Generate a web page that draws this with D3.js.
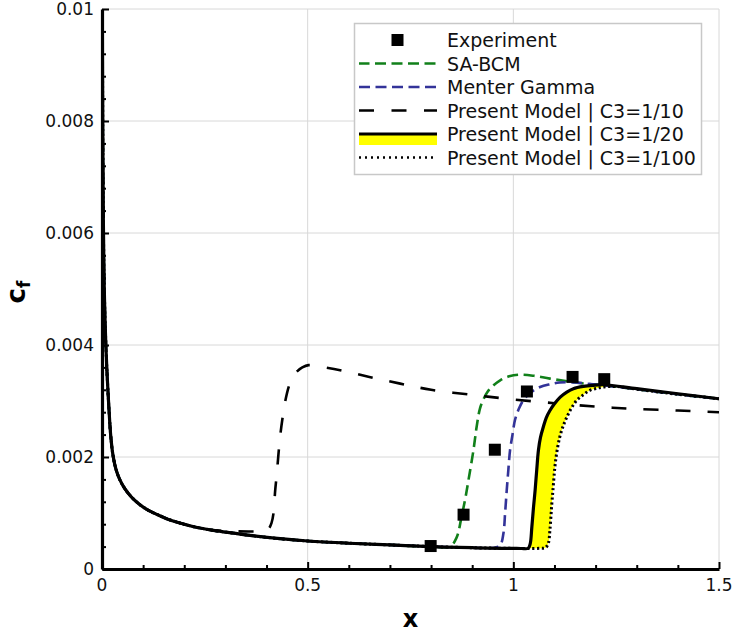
<!DOCTYPE html>
<html>
<head>
<meta charset="utf-8">
<script src="https://cdn.jsdelivr.net/npm/d3@7"></script>
<style>
  html, body { margin: 0; padding: 0; background: #fff; }
  svg { display: block; font-family: "DejaVu Sans", sans-serif; }
</style>
</head>
<body>
<svg id="chart" width="733" height="637"></svg>
<script>
// Skin-friction coefficient along a flat plate: transition predictions vs. experiment

// Laminar region shared by every model
const laminarX  = [0.0008, 0.0015, 0.003, 0.005, 0.0065, 0.008, 0.0105, 0.0129, 0.017, 0.021, 0.0267, 0.034, 0.043, 0.055, 0.071, 0.09, 0.112, 0.135, 0.16, 0.185, 0.226, 0.271, 0.32, 0.36, 0.42, 0.5, 0.6, 0.7, 0.8, 0.9, 0.97, 1.0, 1.02];
const laminarCf = [0.0100, 0.0085, 0.0064, 0.0052, 0.0047, 0.0043, 0.0038, 0.0034, 0.00285, 0.0024, 0.00203, 0.00178, 0.0016, 0.00144, 0.00129, 0.00116, 0.00105, 0.00097, 0.00089, 0.00083, 0.00075, 0.00069, 0.00064, 0.0006, 0.00055, 0.0005, 0.00046, 0.00043, 0.0004, 0.00038, 0.00037, 0.000368, 0.000366];

// Experiment
const expX  = [0.799, 0.879, 0.955, 1.033, 1.144, 1.221];
const expCf = [0.00041, 0.00097, 0.00213, 0.00317, 0.00343, 0.00339];

// SA-BCM (transition and turbulent part)
const saX  = [0.846, 0.862, 0.874, 0.883, 0.891, 0.903, 0.911, 0.919, 0.928, 0.937, 0.952, 0.968, 0.99, 1.016, 1.05, 1.089, 1.162, 1.22, 1.3, 1.4, 1.5];
const saCf = [0.0004, 0.00056, 0.00093, 0.00125, 0.00159, 0.00212, 0.00255, 0.00287, 0.00304, 0.00316, 0.00328, 0.00337, 0.00344, 0.00347, 0.00345, 0.0034, 0.00332, 0.00328, 0.00321, 0.00312, 0.00304];

// Menter Gamma
const mgX  = [0.955, 0.968, 0.976, 0.98, 0.984, 0.988, 0.992, 0.998, 1.004, 1.014, 1.024, 1.042, 1.065, 1.09, 1.113, 1.15, 1.178, 1.22, 1.3, 1.4, 1.5];
const mgCf = [0.00038, 0.00042, 0.00064, 0.001, 0.00141, 0.00178, 0.00212, 0.0024, 0.00266, 0.00287, 0.00301, 0.00315, 0.00325, 0.0033, 0.00333, 0.00333, 0.00331, 0.00328, 0.00321, 0.00312, 0.00304];

// Present model, C3 = 1/10
const c10X  = [0.3, 0.36, 0.392, 0.405, 0.412, 0.417, 0.421, 0.425, 0.429, 0.433, 0.439, 0.445, 0.455, 0.465, 0.473, 0.487, 0.502, 0.54, 0.579, 0.65, 0.725, 0.8, 0.9, 0.984, 1.1, 1.2, 1.292, 1.4, 1.5];
const c10Cf = [0.00068, 0.00067, 0.00068, 0.00072, 0.00082, 0.001, 0.0014, 0.0017, 0.00205, 0.00236, 0.0027, 0.00298, 0.00328, 0.00345, 0.00352, 0.0036, 0.00364, 0.0036, 0.00355, 0.00343, 0.00331, 0.0032, 0.00311, 0.00304, 0.00296, 0.0029, 0.00286, 0.00283, 0.0028];

// Present model, C3 = 1/20
const c20X  = [1.036, 1.041, 1.045, 1.049, 1.053, 1.057, 1.061, 1.066, 1.073, 1.08, 1.089, 1.1, 1.114, 1.13, 1.146, 1.17, 1.194, 1.221, 1.3, 1.4, 1.5];
const c20Cf = [0.00037, 0.00045, 0.00075, 0.0011, 0.00141, 0.00178, 0.00212, 0.00235, 0.00254, 0.0027, 0.00283, 0.00295, 0.00307, 0.00316, 0.00322, 0.00326, 0.00328, 0.00329, 0.00322, 0.00313, 0.00304];

// Present model, C3 = 1/100
const c100X  = [1.065, 1.078, 1.085, 1.089, 1.093, 1.097, 1.101, 1.106, 1.113, 1.121, 1.13, 1.141, 1.154, 1.17, 1.186, 1.205, 1.221, 1.25, 1.3, 1.4, 1.5];
const c100Cf = [0.00037, 0.00038, 0.00046, 0.0007, 0.00111, 0.00147, 0.00182, 0.0021, 0.00236, 0.00255, 0.00271, 0.00287, 0.00301, 0.00311, 0.00319, 0.00323, 0.00325, 0.00326, 0.00321, 0.00312, 0.00304];

// Axis ticks
const xTickValues = [0, 0.5, 1, 1.5];
const xTickLabels = ["0", "0.5", "1", "1.5"];
const yTickValues = [0, 0.002, 0.004, 0.006, 0.008, 0.01];
const yTickLabels = ["0", "0.002", "0.004", "0.006", "0.008", "0.01"];

const legendLabels = ["Experiment", "SA-BCM", "Menter Gamma", "Present Model | C3=1/10", "Present Model | C3=1/20", "Present Model | C3=1/100"];

// ---------------------------------------------------------------
const svg = d3.select("#chart");
const margin = { left: 102, right: 14, top: 9, bottom: 68 };
const W = 733, H = 637;

const x = d3.scaleLinear().domain([0, 1.5]).range([margin.left, W - margin.right]);
const y = d3.scaleLinear().domain([0, 0.01]).range([H - margin.bottom, margin.top]);

const zip = (xs, ys) => xs.map((v, i) => [v, ys[i]]);
// each model = laminar points ahead of its own transition data
const withLaminar = (xs, ys) => zip(laminarX, laminarCf).filter(p => p[0] < xs[0] - 0.004).concat(zip(xs, ys));

const seriesSA   = withLaminar(saX, saCf);
const seriesMG   = withLaminar(mgX, mgCf);
const seriesC10  = withLaminar(c10X, c10Cf);
const seriesC20  = withLaminar(c20X, c20Cf);
const seriesC100 = withLaminar(c100X, c100Cf);

const line = d3.line()
  .x(d => x(d[0])).y(d => y(d[1]))
  .curve(d3.curveCatmullRom.alpha(0.5));

// clip region
svg.append("defs").append("clipPath").attr("id", "plotClip")
  .append("rect")
  .attr("x", x(0)).attr("y", y(0.01))
  .attr("width", x(1.5) - x(0)).attr("height", y(0) - y(0.01));

// grid
const grid = svg.append("g").attr("stroke", "#d8d8d8").attr("stroke-width", 1);
grid.selectAll(".gx").data(xTickValues.filter(v => v > 0)).join("line")
  .attr("x1", d => x(d)).attr("x2", d => x(d))
  .attr("y1", y(0)).attr("y2", y(0.01));
grid.selectAll(".gy").data(yTickValues.filter(v => v > 0)).join("line")
  .attr("x1", x(0)).attr("x2", x(1.5))
  .attr("y1", d => y(d)).attr("y2", d => y(d));

// curves
const plot = svg.append("g").attr("clip-path", "url(#plotClip)");

plot.append("path").datum(seriesSA)
  .attr("d", line).attr("fill", "none")
  .attr("stroke", "#11801a").attr("stroke-width", 2.6)
  .attr("stroke-dasharray", "11,5.5");

plot.append("path").datum(seriesMG)
  .attr("d", line).attr("fill", "none")
  .attr("stroke", "#333399").attr("stroke-width", 2.6)
  .attr("stroke-dasharray", "11,5.5");

plot.append("path").datum(seriesC10)
  .attr("d", line).attr("fill", "none")
  .attr("stroke", "#000").attr("stroke-width", 2.6)
  .attr("stroke-dasharray", "15,17");

// band between C3=1/20 and C3=1/100
const bandUpper = zip(c20X, c20Cf).filter(p => p[0] <= 1.221);
const bandLower = zip(c100X, c100Cf).filter(p => p[0] <= 1.221);
const bandPath = line(bandUpper) + "L" + line(bandLower.slice().reverse()).slice(1) + "Z";
plot.append("path").attr("d", bandPath)
  .attr("fill", "#ffff00").attr("stroke", "none");

plot.append("path").datum(seriesC20)
  .attr("d", line).attr("fill", "none")
  .attr("stroke", "#000").attr("stroke-width", 3.2);

plot.append("path").datum(seriesC100)
  .attr("d", line).attr("fill", "none")
  .attr("stroke", "#000").attr("stroke-width", 3)
  .attr("stroke-dasharray", "2.2,2.6");

// experiment markers
plot.selectAll(".exp").data(zip(expX, expCf)).join("rect")
  .attr("x", d => x(d[0]) - 6).attr("y", d => y(d[1]) - 6)
  .attr("width", 12).attr("height", 12)
  .attr("fill", "#000");

// axes
const xAxis = d3.axisBottom(x)
  .tickValues(d3.range(0, 16).map(i => i / 10))
  .tickSizeInner(-4).tickSizeOuter(0)
  .tickFormat("");
const gx = svg.append("g").attr("transform", `translate(0,${y(0)})`).call(xAxis);
gx.selectAll(".tick line").attr("stroke", "#000").attr("stroke-width", 2)
  .attr("y2", d => (Math.abs(d * 2 - Math.round(d * 2)) < 1e-6 ? -7 : -4));
gx.select(".domain").attr("stroke", "#000").attr("stroke-width", 3.2);

const yAxis = d3.axisLeft(y)
  .tickValues(d3.range(0, 26).map(i => i * 0.0004))
  .tickSizeInner(-4).tickSizeOuter(0)
  .tickFormat("");
const gy = svg.append("g").attr("transform", `translate(${x(0)},0)`).call(yAxis);
gy.selectAll(".tick line").attr("stroke", "#000").attr("stroke-width", 2)
  .attr("x2", d => (Math.abs(d / 0.002 - Math.round(d / 0.002)) < 1e-6 ? 7 : 4));
gy.select(".domain").attr("stroke", "#000").attr("stroke-width", 3.2);

// tick labels
svg.append("g").selectAll("text").data(xTickValues).join("text")
  .attr("x", d => x(d)).attr("y", y(0) + 22)
  .attr("text-anchor", "middle")
  .attr("font-size", 17).attr("fill", "#111")
  .text((d, i) => xTickLabels[i]);

svg.append("g").selectAll("text").data(yTickValues).join("text")
  .attr("x", x(0) - 8).attr("y", d => y(d) + 6)
  .attr("text-anchor", "end")
  .attr("font-size", 17).attr("fill", "#111")
  .text((d, i) => yTickLabels[i]);

// axis titles
svg.append("text")
  .attr("x", (x(0) + x(1.5)) / 2).attr("y", 627)
  .attr("text-anchor", "middle")
  .attr("font-size", 24).attr("font-weight", "bold")
  .text("x");

const yt = svg.append("text")
  .attr("transform", "translate(25,292) rotate(-90)")
  .attr("text-anchor", "middle")
  .attr("font-weight", "bold");
yt.append("tspan").attr("font-size", 26).text("c");
yt.append("tspan").attr("font-size", 17).attr("dy", 5).text("f");

// legend
const lg = svg.append("g");
lg.append("rect")
  .attr("x", 354.5).attr("y", 23.5).attr("width", 347).attr("height", 151)
  .attr("fill", "#fff").attr("stroke", "#c8c8c8").attr("stroke-width", 1.5);

const rowY = i => 40 + i * 23.5;
const lx0 = 359, lx1 = 437;

lg.append("rect").attr("x", 397.5 - 6).attr("y", rowY(0) - 6)
  .attr("width", 12).attr("height", 12).attr("fill", "#000");

const legendStyles = [
  null,
  { stroke: "#11801a", width: 2.6, dash: "11,5.5", offset: -16 },
  { stroke: "#333399", width: 2.6, dash: "11,5.5", offset: 0 },
  { stroke: "#000", width: 2.6, dash: "15,17.5", offset: 0 },
  { stroke: "#000", width: 3.2, dash: null, offset: 0 },
  { stroke: "#000", width: 2.6, dash: "2,4", offset: 0 }
];

// yellow swatch under the C3=1/20 line
lg.append("rect").attr("x", lx0).attr("y", rowY(4) + 1)
  .attr("width", lx1 - lx0).attr("height", 10).attr("fill", "#ffff00");

legendStyles.forEach((s, i) => {
  if (!s) return;
  const l = lg.append("line")
    .attr("x1", lx0).attr("x2", lx1)
    .attr("y1", rowY(i)).attr("y2", rowY(i))
    .attr("stroke", s.stroke).attr("stroke-width", s.width);
  if (s.dash) l.attr("stroke-dasharray", s.dash).attr("stroke-dashoffset", s.offset);
});

lg.selectAll(".lt").data(legendLabels).join("text")
  .attr("x", 447).attr("y", (d, i) => rowY(i) + 7)
  .attr("font-size", 19).attr("fill", "#111")
  .text(d => d);
</script>
</body>
</html>
